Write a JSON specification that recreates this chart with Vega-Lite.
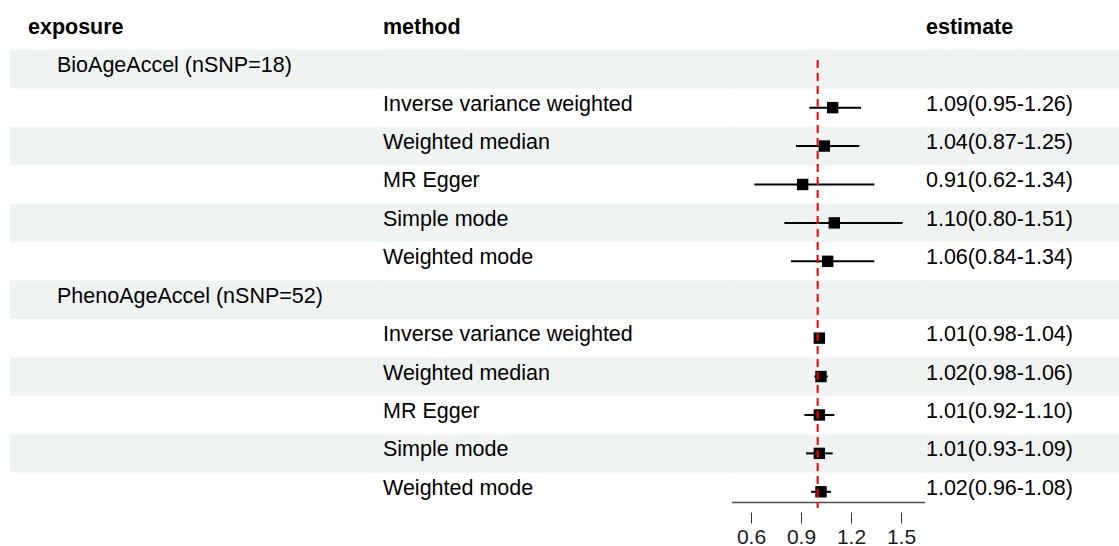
{
  "$schema": "https://vega.github.io/schema/vega-lite/v6.json",
  "padding": {"left": 10, "top": 0, "right": 0, "bottom": 0},
  "spacing": 0,
  "bounds": "flush",
  "background": "white",
  "config": {
    "view": {"stroke": null},
    "text": {"font": "Liberation Sans", "fontSize": 21.5, "color": "#000000"},
    "axisX": {"domain": false, "grid": false, "offset": 9, "tickSize": 11, "tickColor": "#333333", "tickWidth": 1, "labelFont": "Liberation Sans", "labelFontSize": 21, "labelColor": "#1a1a1a", "labelPadding": 3, "labelFlush": false, "labelOverlap": false}
  },
  "datasets": {
    "rows": [
      {"row": 1, "exposure": "BioAgeAccel (nSNP=18)"},
      {"row": 2, "method": "Inverse variance weighted", "est": 1.09, "lo": 0.95, "hi": 1.26, "estimate": "1.09(0.95-1.26)"},
      {"row": 3, "method": "Weighted median", "est": 1.04, "lo": 0.87, "hi": 1.25, "estimate": "1.04(0.87-1.25)"},
      {"row": 4, "method": "MR Egger", "est": 0.91, "lo": 0.62, "hi": 1.34, "estimate": "0.91(0.62-1.34)"},
      {"row": 5, "method": "Simple mode", "est": 1.10, "lo": 0.80, "hi": 1.51, "estimate": "1.10(0.80-1.51)"},
      {"row": 6, "method": "Weighted mode", "est": 1.06, "lo": 0.84, "hi": 1.34, "estimate": "1.06(0.84-1.34)"},
      {"row": 7, "exposure": "PhenoAgeAccel (nSNP=52)"},
      {"row": 8, "method": "Inverse variance weighted", "est": 1.01, "lo": 0.98, "hi": 1.04, "estimate": "1.01(0.98-1.04)"},
      {"row": 9, "method": "Weighted median", "est": 1.02, "lo": 0.98, "hi": 1.06, "estimate": "1.02(0.98-1.06)"},
      {"row": 10, "method": "MR Egger", "est": 1.01, "lo": 0.92, "hi": 1.10, "estimate": "1.01(0.92-1.10)"},
      {"row": 11, "method": "Simple mode", "est": 1.01, "lo": 0.93, "hi": 1.09, "estimate": "1.01(0.93-1.09)"},
      {"row": 12, "method": "Weighted mode", "est": 1.02, "lo": 0.96, "hi": 1.08, "estimate": "1.02(0.96-1.08)"}
    ]
  },
  "hconcat": [
    {
      "width": 370, "height": 503,
      "layer": [
        {
          "data": {"name": "rows"},
          "transform": [{"filter": "datum.row % 2 == 1"}],
          "mark": {"type": "rect", "color": "#eff3f2"},
          "encoding": {
            "x": {"datum": 0, "type": "quantitative", "scale": {"domain": [0, 1], "nice": false, "zero": false}, "axis": null},
            "x2": {"datum": 1.004},
            "y": {"field": "row", "type": "ordinal", "scale": {"type": "band", "domain": [0,1,2,3,4,5,6,7,8,9,10,11,12], "range": [11.6, 511], "paddingInner": 0, "paddingOuter": 0}, "axis": null}
          }
        },
        {
          "data": {"values": [{"label": "exposure"}]},
          "mark": {"type": "text", "align": "left", "baseline": "alphabetic", "dy": 3, "fontWeight": "bold"},
          "encoding": {
            "x": {"datum": 0.0486, "type": "quantitative"},
            "y": {"datum": 0, "type": "ordinal"},
            "text": {"field": "label"}
          }
        },
        {
          "data": {"name": "rows"},
          "transform": [{"filter": "isValid(datum.exposure)"}],
          "mark": {"type": "text", "align": "left", "baseline": "alphabetic", "dy": 3},
          "encoding": {
            "x": {"datum": 0.127, "type": "quantitative"},
            "y": {"field": "row", "type": "ordinal"},
            "text": {"field": "exposure"}
          }
        }
      ]
    },
    {
      "width": 352, "height": 503,
      "layer": [
        {
          "data": {"name": "rows"},
          "transform": [{"filter": "datum.row % 2 == 1"}],
          "mark": {"type": "rect", "color": "#eff3f2"},
          "encoding": {
            "x": {"datum": -0.004, "type": "quantitative", "scale": {"domain": [0, 1], "nice": false, "zero": false}, "axis": null},
            "x2": {"datum": 1.004},
            "y": {"field": "row", "type": "ordinal", "scale": {"type": "band", "domain": [0,1,2,3,4,5,6,7,8,9,10,11,12], "range": [11.6, 511], "paddingInner": 0, "paddingOuter": 0}, "axis": null}
          }
        },
        {
          "data": {"values": [{"label": "method"}]},
          "mark": {"type": "text", "align": "left", "baseline": "alphabetic", "dy": 3, "fontWeight": "bold"},
          "encoding": {
            "x": {"datum": 0.0085, "type": "quantitative"},
            "y": {"datum": 0, "type": "ordinal"},
            "text": {"field": "label"}
          }
        },
        {
          "data": {"name": "rows"},
          "transform": [{"filter": "isValid(datum.method)"}],
          "mark": {"type": "text", "align": "left", "baseline": "alphabetic", "dy": 3},
          "encoding": {
            "x": {"datum": 0.0085, "type": "quantitative"},
            "y": {"field": "row", "type": "ordinal"},
            "text": {"field": "method"}
          }
        }
      ]
    },
    {
      "width": 193, "height": 503,
      "layer": [
        {
          "data": {"name": "rows"},
          "transform": [{"filter": "datum.row % 2 == 1"}],
          "mark": {"type": "rect", "color": "#eff3f2"},
          "encoding": {
            "x": {"datum": 0.48, "type": "quantitative", "scale": {"domain": [0.486, 1.644], "nice": false, "zero": false}, "axis": {"values": [0.6, 0.9, 1.2, 1.5], "format": ".1f", "title": null}},
            "x2": {"datum": 1.65},
            "y": {"field": "row", "type": "ordinal", "scale": {"type": "band", "domain": [0,1,2,3,4,5,6,7,8,9,10,11,12], "range": [11.6, 511], "paddingInner": 0, "paddingOuter": 0}, "axis": null}
          }
        },
        {
          "data": {"values": [{}]},
          "mark": {"type": "rule", "color": "#4d4d4d", "strokeWidth": 1.6},
          "encoding": {
            "x": {"datum": 0.486, "type": "quantitative"},
            "x2": {"datum": 1.644},
            "y": {"datum": 12, "type": "ordinal", "bandPosition": 0.78}
          }
        },
        {
          "data": {"name": "rows"},
          "transform": [{"filter": "isValid(datum.est)"}],
          "mark": {"type": "rule", "color": "#000000", "strokeWidth": 2},
          "encoding": {
            "x": {"field": "lo", "type": "quantitative", "title": null},
            "x2": {"field": "hi"},
            "y": {"field": "row", "type": "ordinal"}
          }
        },
        {
          "data": {"name": "rows"},
          "transform": [{"filter": "isValid(datum.est)"}],
          "mark": {"type": "square", "color": "#000000", "opacity": 1, "size": 130},
          "encoding": {
            "x": {"field": "est", "type": "quantitative", "title": null},
            "y": {"field": "row", "type": "ordinal"}
          }
        },
        {
          "data": {"values": [{}]},
          "mark": {"type": "rule", "color": "#ff0000", "strokeWidth": 2, "strokeDash": [8, 5]},
          "encoding": {
            "x": {"datum": 1, "type": "quantitative"},
            "y": {"datum": 1, "type": "ordinal", "bandPosition": 0.26},
            "y2": {"datum": 12, "bandPosition": 0.92}
          }
        }
      ]
    },
    {
      "width": 194, "height": 503,
      "layer": [
        {
          "data": {"name": "rows"},
          "transform": [{"filter": "datum.row % 2 == 1"}],
          "mark": {"type": "rect", "color": "#eff3f2"},
          "encoding": {
            "x": {"datum": -0.004, "type": "quantitative", "scale": {"domain": [0, 1], "nice": false, "zero": false}, "axis": null},
            "x2": {"datum": 1},
            "y": {"field": "row", "type": "ordinal", "scale": {"type": "band", "domain": [0,1,2,3,4,5,6,7,8,9,10,11,12], "range": [11.6, 511], "paddingInner": 0, "paddingOuter": 0}, "axis": null}
          }
        },
        {
          "data": {"values": [{"label": "estimate"}]},
          "mark": {"type": "text", "align": "left", "baseline": "alphabetic", "dy": 3, "fontWeight": "bold"},
          "encoding": {
            "x": {"datum": 0.005, "type": "quantitative"},
            "y": {"datum": 0, "type": "ordinal"},
            "text": {"field": "label"}
          }
        },
        {
          "data": {"name": "rows"},
          "transform": [{"filter": "isValid(datum.estimate)"}],
          "mark": {"type": "text", "align": "left", "baseline": "alphabetic", "dy": 3},
          "encoding": {
            "x": {"datum": 0.005, "type": "quantitative"},
            "y": {"field": "row", "type": "ordinal"},
            "text": {"field": "estimate"}
          }
        }
      ]
    }
  ]
}
